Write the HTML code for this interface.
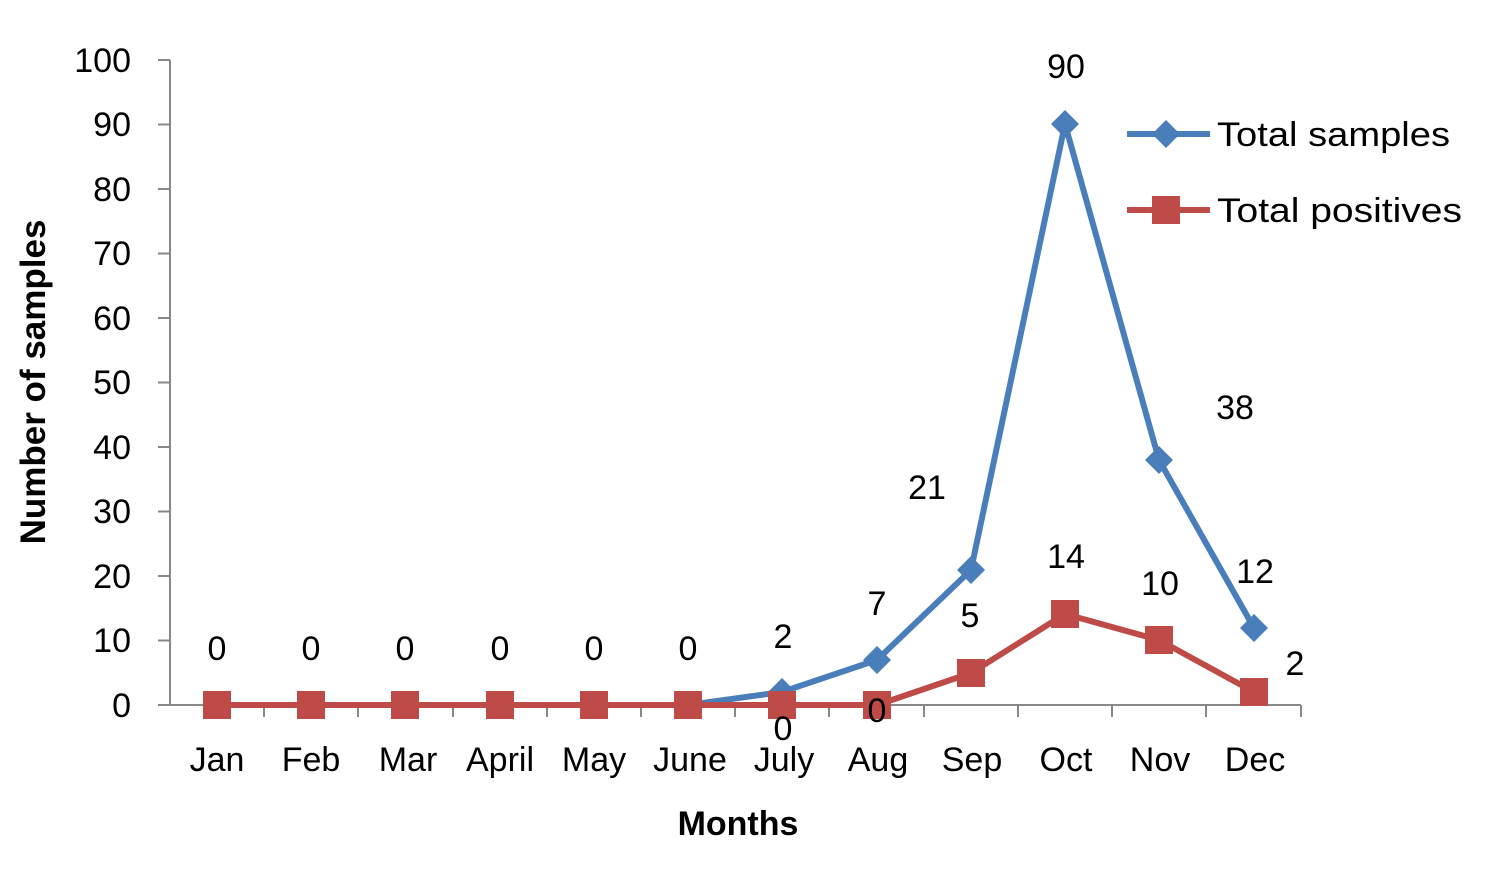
<!DOCTYPE html>
<html><head><meta charset="utf-8"><style>body{margin:0;background:#fff}</style></head><body>
<svg width="1505" height="890" xmlns="http://www.w3.org/2000/svg" font-family="Liberation Sans, sans-serif" font-size="34" fill="#000">
<rect width="1505" height="890" fill="#fff"/>
<g stroke="#888" stroke-width="2">
<line x1="170" y1="60" x2="170" y2="705"/>
<line x1="170" y1="705" x2="1301" y2="705"/>
<line x1="158" y1="60" x2="170" y2="60"/><line x1="158" y1="124.5" x2="170" y2="124.5"/><line x1="158" y1="189" x2="170" y2="189"/><line x1="158" y1="253.5" x2="170" y2="253.5"/><line x1="158" y1="318" x2="170" y2="318"/><line x1="158" y1="382.5" x2="170" y2="382.5"/><line x1="158" y1="447" x2="170" y2="447"/><line x1="158" y1="511.5" x2="170" y2="511.5"/><line x1="158" y1="576" x2="170" y2="576"/><line x1="158" y1="640.5" x2="170" y2="640.5"/><line x1="158" y1="705" x2="170" y2="705"/>
<line x1="264" y1="705" x2="264" y2="717"/><line x1="358" y1="705" x2="358" y2="717"/><line x1="453" y1="705" x2="453" y2="717"/><line x1="547" y1="705" x2="547" y2="717"/><line x1="641" y1="705" x2="641" y2="717"/><line x1="735" y1="705" x2="735" y2="717"/><line x1="829" y1="705" x2="829" y2="717"/><line x1="924" y1="705" x2="924" y2="717"/><line x1="1018" y1="705" x2="1018" y2="717"/><line x1="1112" y1="705" x2="1112" y2="717"/><line x1="1206" y1="705" x2="1206" y2="717"/><line x1="1301" y1="705" x2="1301" y2="717"/>
</g>
<g text-anchor="end">
<text x="131" y="72">100</text><text x="131" y="136">90</text><text x="131" y="201">80</text><text x="131" y="265">70</text><text x="131" y="330">60</text><text x="131" y="394">50</text><text x="131" y="459">40</text><text x="131" y="523">30</text><text x="131" y="588">20</text><text x="131" y="652">10</text><text x="131" y="717">0</text>
</g>
<g text-anchor="middle">
<text x="217" y="771">Jan</text><text x="311" y="771">Feb</text><text x="408" y="771">Mar</text><text x="500" y="771">April</text><text x="594" y="771">May</text><text x="690" y="771">June</text><text x="784" y="771">July</text><text x="878" y="771">Aug</text><text x="972" y="771">Sep</text><text x="1066" y="771">Oct</text><text x="1160" y="771">Nov</text><text x="1255" y="771">Dec</text>
<text x="738" y="835" font-weight="bold">Months</text>
<text transform="translate(45,382) rotate(-90)" font-weight="bold" font-size="35">Number of samples</text>
</g>
<polyline fill="none" stroke="#4a7ebb" stroke-width="6" points="217,705 311,705 405,705 500,705 594,705 688,705 782,692 877,660 971,570 1065,124 1159,460 1254,628"/>
<g fill="#4a7ebb">
<path d="M782,678 l14,14 -14,14 -14,-14z"/><path d="M877,646 l14,14 -14,14 -14,-14z"/><path d="M971,556 l14,14 -14,14 -14,-14z"/><path d="M1065,110 l14,14 -14,14 -14,-14z"/><path d="M1159,446 l14,14 -14,14 -14,-14z"/><path d="M1254,614 l14,14 -14,14 -14,-14z"/>
</g>
<polyline fill="none" stroke="#be4b48" stroke-width="6" points="217,705 311,705 405,705 500,705 594,705 688,705 782,705 877,705 971,673 1065,614 1159,640 1254,692"/>
<g fill="#be4b48">
<rect x="203" y="691" width="28" height="28"/><rect x="297" y="691" width="28" height="28"/><rect x="391" y="691" width="28" height="28"/><rect x="486" y="691" width="28" height="28"/><rect x="580" y="691" width="28" height="28"/><rect x="674" y="691" width="28" height="28"/><rect x="768" y="691" width="28" height="28"/><rect x="863" y="691" width="28" height="28"/><rect x="957" y="659" width="28" height="28"/><rect x="1051" y="600" width="28" height="28"/><rect x="1145" y="626" width="28" height="28"/><rect x="1240" y="678" width="28" height="28"/>
</g>
<g text-anchor="middle">
<text x="217" y="660">0</text><text x="311" y="660">0</text><text x="405" y="660">0</text><text x="500" y="660">0</text><text x="594" y="660">0</text><text x="688" y="660">0</text>
<text x="783" y="648">2</text><text x="877" y="615">7</text><text x="927" y="499">21</text><text x="1066" y="78">90</text><text x="1235" y="419">38</text><text x="1255" y="583">12</text>
<text x="970" y="627">5</text><text x="1066" y="568">14</text><text x="1160" y="595">10</text><text x="1295" y="675">2</text><text x="783" y="740">0</text><text x="877" y="722">0</text>
</g>
<line x1="1127" y1="134" x2="1210" y2="134" stroke="#4a7ebb" stroke-width="6"/>
<path d="M1166,120 l14,14 -14,14 -14,-14z" fill="#4a7ebb"/>
<text x="1217" y="146" textLength="233" lengthAdjust="spacingAndGlyphs">Total samples</text>
<line x1="1127" y1="210" x2="1210" y2="210" stroke="#be4b48" stroke-width="6"/>
<rect x="1152" y="196" width="28" height="28" fill="#be4b48"/>
<text x="1217" y="222" textLength="245" lengthAdjust="spacingAndGlyphs">Total positives</text>
</svg>
</body></html>
